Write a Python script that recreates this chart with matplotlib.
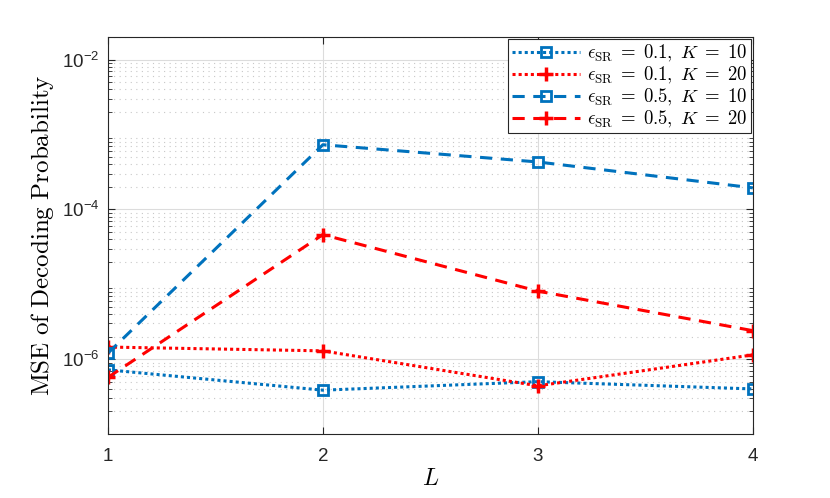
import numpy as np
import matplotlib.pyplot as plt
from matplotlib.ticker import LogLocator, NullFormatter

plt.rcParams['font.family'] = ['Liberation Sans', 'DejaVu Sans']
plt.rcParams['mathtext.fontset'] = 'cm'

L = [1, 2, 3, 4]
# MSE values
mse_01_k10 = [7.2e-7, 3.85e-7, 5.0e-7, 4.0e-7]
mse_01_k20 = [1.45e-6, 1.29e-6, 4.4e-7, 1.14e-6]
mse_05_k10 = [1.2e-6, 7.3e-4, 4.3e-4, 1.94e-4]
mse_05_k20 = [5.7e-7, 4.6e-5, 8.1e-6, 2.4e-6]
labels = [r'$\epsilon_{\mathrm{SR}}\;=\;0.1,\ K\;=\;10$',
          r'$\epsilon_{\mathrm{SR}}\;=\;0.1,\ K\;=\;20$',
          r'$\epsilon_{\mathrm{SR}}\;=\;0.5,\ K\;=\;10$',
          r'$\epsilon_{\mathrm{SR}}\;=\;0.5,\ K\;=\;20$']

blue = '#0072BD'
red = '#FF0000'

fig = plt.figure(figsize=(8.3, 4.98), dpi=100)
ax = fig.add_axes([0.130, 0.1285, 0.777, 0.797])

ax.semilogy(L, mse_01_k10, color=blue, lw=2.2, dashes=(1, 1), marker='s', ms=7.5,
            mfc='none', mew=2, label=labels[0])
ax.semilogy(L, mse_01_k20, color=red, lw=2.2, dashes=(1, 1), marker='+', ms=10,
            mew=2.5, label=labels[1])
ax.semilogy(L, mse_05_k10, color=blue, lw=2.2, dashes=(4, 2.8), marker='s', ms=7.5,
            mfc='none', mew=2, label=labels[2])
ax.semilogy(L, mse_05_k20, color=red, lw=2.2, dashes=(4, 2.8), marker='+', ms=10,
            mew=2.5, label=labels[3])

ax.set_xlim(1, 4)
ax.set_ylim(1e-7, 2e-2)
ax.set_xticks(L)
ax.set_yticks([1e-6, 1e-4, 1e-2])
ax.set_yticklabels([r'$\mathregular{10^{-6}}$', r'$\mathregular{10^{-4}}$',
                    r'$\mathregular{10^{-2}}$'])
ax.yaxis.set_minor_locator(LogLocator(base=10, subs=np.arange(2, 10), numticks=20))
ax.yaxis.set_minor_formatter(NullFormatter())

ax.tick_params(which='both', direction='in', top=True, right=True,
               labelsize=13.5, colors='#262626')
ax.tick_params(axis='x', pad=10)
ax.tick_params(axis='y', pad=6)
ax.tick_params(which='major', length=5)
ax.tick_params(which='minor', length=3)
for s in ax.spines.values():
    s.set_color('#262626')
    s.set_linewidth(0.8)

ax.grid(which='major', color='#dcdcdc', linestyle='-', linewidth=0.8)
ax.grid(which='minor', axis='y', color='#c8c8c8', linestyle=(0, (1, 4)), linewidth=0.8)
ax.set_axisbelow(True)

ax.set_xlabel(r'$L$', fontsize=17, labelpad=2)
ax.set_ylabel(r'$\mathrm{MSE\ of\ Decoding\ Probability}$', fontsize=18, labelpad=4)

leg = ax.legend(loc='upper right', fontsize=13.5, frameon=True, fancybox=False,
                edgecolor='#262626', framealpha=1, borderaxespad=0.1,
                handlelength=3.6, labelspacing=0.05, borderpad=0.2,
                handletextpad=0.4)
leg.get_frame().set_linewidth(0.8)

fig.savefig('out.png', dpi=100)
